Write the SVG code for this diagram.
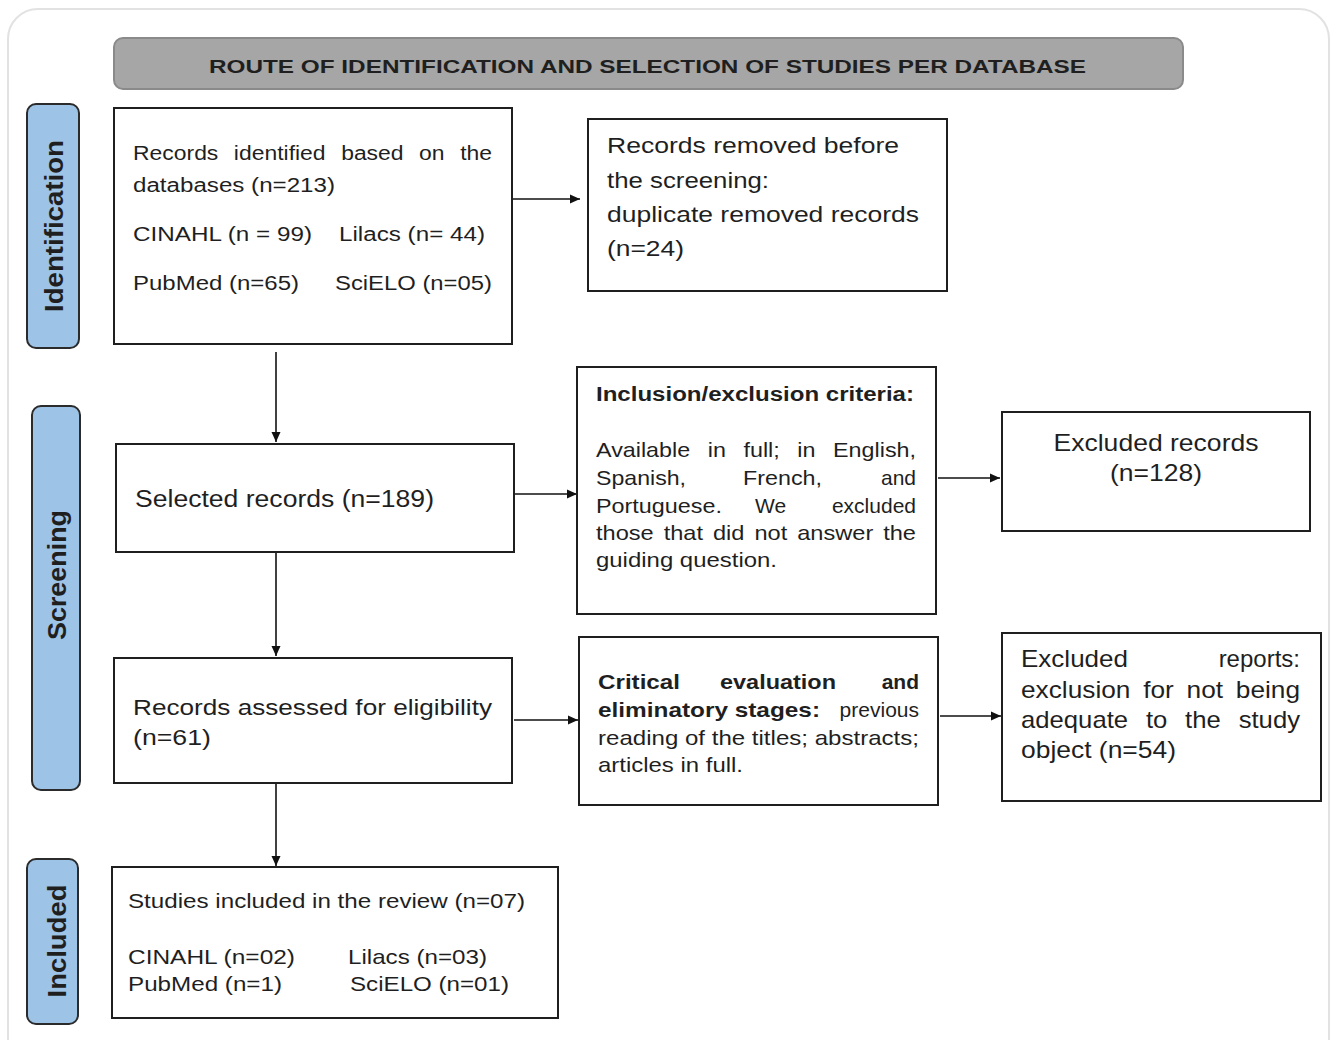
<svg xmlns="http://www.w3.org/2000/svg" width="1332" height="1040" viewBox="0 0 1332 1040">
<style>
.box{fill:#fff;stroke:#1f1f1f;stroke-width:2}
.side{fill:#9dc3e6;stroke:#2b2b2b;stroke-width:2}
.t{font-family:"Liberation Sans",Arial,sans-serif;fill:#1f1f1f}
.b{font-weight:bold}
.side-t{font-family:"Liberation Sans",Arial,sans-serif;font-weight:bold;font-size:26px;fill:#1f1f1f;text-anchor:middle}
.f20{font-size:20px}
.f21{font-size:21px}
.f22{font-size:22px}
.f23{font-size:23px}
.f24{font-size:24px}
.conn{stroke:#111;stroke-width:1.6;fill:none;marker-end:url(#ah)}
</style>
<defs>
<marker id="ah" markerUnits="userSpaceOnUse" markerWidth="11" markerHeight="10" refX="10" refY="5" orient="auto">
<path d="M0,0.5 L10,5 L0,9.5 z" fill="#111"/>
</marker>
</defs>
<rect x="0" y="0" width="1332" height="1040" fill="#fff"/>
<rect x="8" y="9" width="1321" height="1060" rx="30" fill="#fff" stroke="#e2e2e2" stroke-width="2"/>

<g id="title">
<rect x="114" y="38" width="1069" height="51" rx="9" fill="#a6a6a6" stroke="#8a8a8a" stroke-width="2"/>
<text class="t b" x="209" y="73" font-size="19" textLength="877" lengthAdjust="spacingAndGlyphs">ROUTE OF IDENTIFICATION AND SELECTION OF STUDIES PER DATABASE</text>
</g>

<g id="label-identification">
<rect class="side" x="27" y="104" width="52" height="244" rx="9"/>
<text class="side-t" transform="translate(62.5,226) rotate(-90)" textLength="172" lengthAdjust="spacingAndGlyphs">Identification</text>
</g>
<g id="label-screening">
<rect class="side" x="32" y="406" width="48" height="384" rx="9"/>
<text class="side-t" transform="translate(66,575) rotate(-90)" textLength="130" lengthAdjust="spacingAndGlyphs">Screening</text>
</g>
<g id="label-included">
<rect class="side" x="27" y="859" width="51" height="165" rx="9"/>
<text class="side-t" transform="translate(65.5,941) rotate(-90)" textLength="113" lengthAdjust="spacingAndGlyphs">Included</text>
</g>

<g id="connectors">
<line class="conn" x1="512" y1="199" x2="580" y2="199"/>
<line class="conn" x1="276" y1="352" x2="276" y2="442"/>
<line class="conn" x1="514" y1="494" x2="577" y2="494"/>
<line class="conn" x1="938" y1="478" x2="1000" y2="478"/>
<line class="conn" x1="276" y1="552" x2="276" y2="656"/>
<line class="conn" x1="514" y1="720" x2="578" y2="720"/>
<line class="conn" x1="940" y1="716" x2="1001" y2="716"/>
<line class="conn" x1="276" y1="783" x2="276" y2="866"/>
</g>

<g id="records-identified">
<rect class="box" x="114" y="108" width="398" height="236"/>
<text class="t f20" x="133" y="160" word-spacing="8" textLength="359" lengthAdjust="spacingAndGlyphs">Records identified based on the</text>
<text class="t f20" x="133" y="192" textLength="202" lengthAdjust="spacingAndGlyphs">databases (n=213)</text>
<text class="t f20" x="133" y="241" textLength="179" lengthAdjust="spacingAndGlyphs">CINAHL (n = 99)</text>
<text class="t f20" x="339" y="241" textLength="146" lengthAdjust="spacingAndGlyphs">Lilacs (n= 44)</text>
<text class="t f20" x="133" y="290" textLength="166" lengthAdjust="spacingAndGlyphs">PubMed (n=65)</text>
<text class="t f20" x="335" y="290" textLength="157" lengthAdjust="spacingAndGlyphs">SciELO (n=05)</text>
</g>

<g id="records-removed">
<rect class="box" x="588" y="119" width="359" height="172"/>
<text class="t f22" x="607" y="153" textLength="292" lengthAdjust="spacingAndGlyphs">Records removed before</text>
<text class="t f22" x="607" y="188" textLength="162" lengthAdjust="spacingAndGlyphs">the screening:</text>
<text class="t f22" x="607" y="222" textLength="312" lengthAdjust="spacingAndGlyphs">duplicate removed records</text>
<text class="t f22" x="607" y="256" textLength="77" lengthAdjust="spacingAndGlyphs">(n=24)</text>
</g>

<g id="selected-records">
<rect class="box" x="116" y="444" width="398" height="108"/>
<text class="t f23" x="135" y="507" textLength="299" lengthAdjust="spacingAndGlyphs">Selected records (n=189)</text>
</g>

<g id="inclusion-criteria">
<rect class="box" x="577" y="367" width="359" height="247"/>
<text class="t b f20" x="596" y="401" textLength="318" lengthAdjust="spacingAndGlyphs">Inclusion/exclusion criteria:</text>
<text class="t f21" x="596" y="457" word-spacing="10" textLength="320" lengthAdjust="spacingAndGlyphs">Available in full; in English,</text>
<text class="t f21" x="596" y="485" textLength="90" lengthAdjust="spacingAndGlyphs">Spanish,</text>
<text class="t f21" x="743" y="485" textLength="79" lengthAdjust="spacingAndGlyphs">French,</text>
<text class="t f21" x="916" y="485" text-anchor="end">and</text>
<text class="t f21" x="596" y="513" textLength="126" lengthAdjust="spacingAndGlyphs">Portuguese.</text>
<text class="t f21" x="755" y="513">We</text>
<text class="t f21" x="916" y="513" text-anchor="end">excluded</text>
<text class="t f21" x="596" y="540" word-spacing="3" textLength="320" lengthAdjust="spacingAndGlyphs">those that did not answer the</text>
<text class="t f21" x="596" y="567" textLength="181" lengthAdjust="spacingAndGlyphs">guiding question.</text>
</g>

<g id="excluded-records">
<rect class="box" x="1002" y="412" width="308" height="119"/>
<text class="t f24" x="1156" y="451" text-anchor="middle" textLength="205" lengthAdjust="spacingAndGlyphs">Excluded records</text>
<text class="t f24" x="1156" y="481" text-anchor="middle" textLength="92" lengthAdjust="spacingAndGlyphs">(n=128)</text>
</g>

<g id="records-assessed">
<rect class="box" x="114" y="658" width="398" height="125"/>
<text class="t f22" x="133" y="715" textLength="359" lengthAdjust="spacingAndGlyphs">Records assessed for eligibility</text>
<text class="t f22" x="133" y="745" textLength="78" lengthAdjust="spacingAndGlyphs">(n=61)</text>
</g>

<g id="critical-evaluation">
<rect class="box" x="579" y="637" width="359" height="168"/>
<text class="t b f21" x="598" y="689" textLength="82" lengthAdjust="spacingAndGlyphs">Critical</text>
<text class="t b f21" x="720" y="689" textLength="116" lengthAdjust="spacingAndGlyphs">evaluation</text>
<text class="t b f21" x="919" y="689" text-anchor="end">and</text>
<text class="t b f21" x="598" y="717" textLength="222" lengthAdjust="spacingAndGlyphs">eliminatory stages:</text>
<text class="t f21" x="919" y="717" text-anchor="end">previous</text>
<text class="t f21" x="598" y="745" textLength="321" lengthAdjust="spacingAndGlyphs">reading of the titles; abstracts;</text>
<text class="t f21" x="598" y="772" textLength="145" lengthAdjust="spacingAndGlyphs">articles in full.</text>
</g>

<g id="excluded-reports">
<rect class="box" x="1002" y="633" width="319" height="168"/>
<text class="t f24" x="1021" y="667" textLength="107" lengthAdjust="spacingAndGlyphs">Excluded</text>
<text class="t f24" x="1300" y="667" text-anchor="end">reports:</text>
<text class="t f24" x="1021" y="698" word-spacing="5" textLength="279" lengthAdjust="spacingAndGlyphs">exclusion for not being</text>
<text class="t f24" x="1021" y="728" word-spacing="10" textLength="279" lengthAdjust="spacingAndGlyphs">adequate to the study</text>
<text class="t f24" x="1021" y="758" textLength="155" lengthAdjust="spacingAndGlyphs">object (n=54)</text>
</g>

<g id="studies-included">
<rect class="box" x="112" y="867" width="446" height="151"/>
<text class="t f21" x="128" y="908" textLength="397" lengthAdjust="spacingAndGlyphs">Studies included in the review (n=07)</text>
<text class="t f21" x="128" y="964" textLength="167" lengthAdjust="spacingAndGlyphs">CINAHL (n=02)</text>
<text class="t f21" x="348" y="964" textLength="139" lengthAdjust="spacingAndGlyphs">Lilacs (n=03)</text>
<text class="t f21" x="128" y="991" textLength="154" lengthAdjust="spacingAndGlyphs">PubMed (n=1)</text>
<text class="t f21" x="350" y="991" textLength="159" lengthAdjust="spacingAndGlyphs">SciELO (n=01)</text>
</g>
</svg>
